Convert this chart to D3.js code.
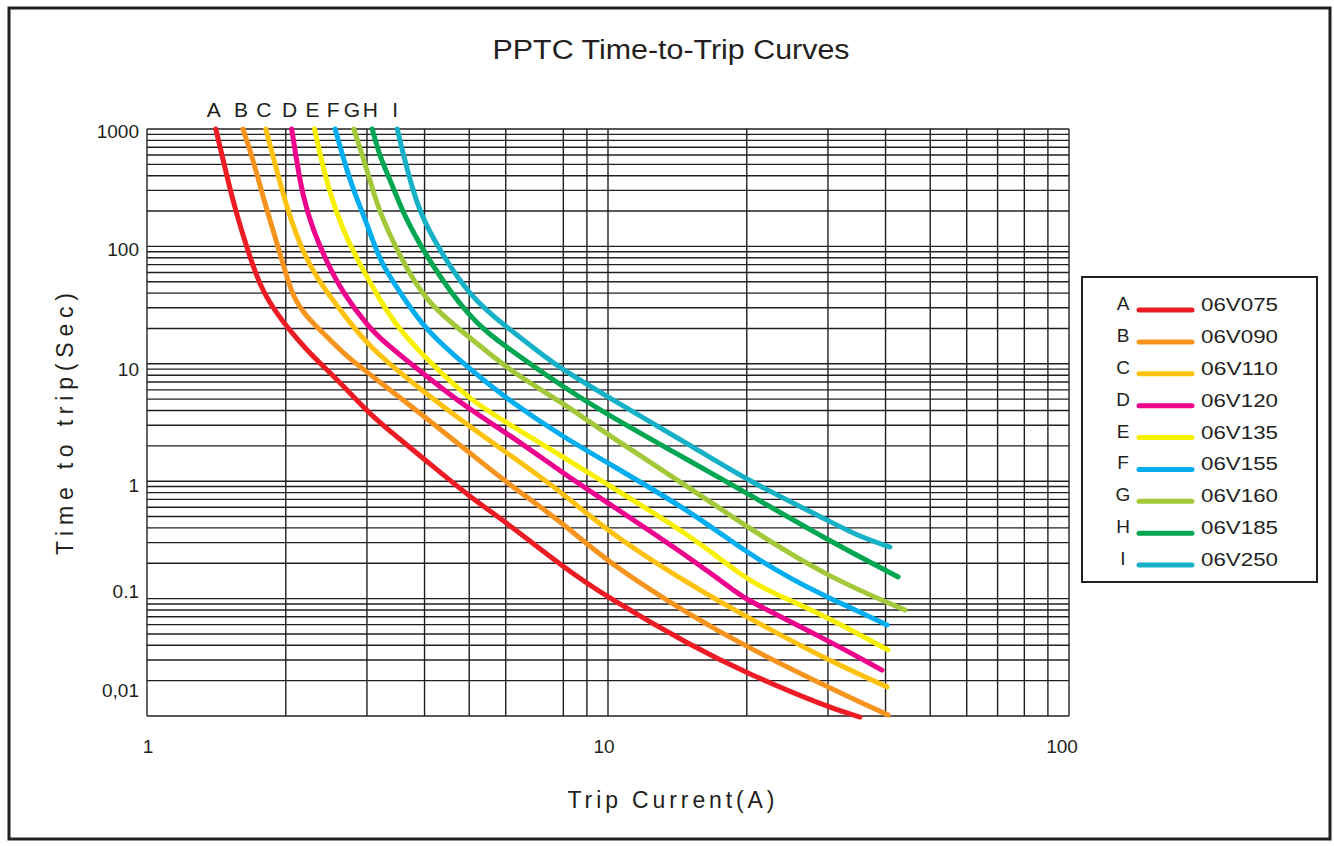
<!DOCTYPE html>
<html><head><meta charset="utf-8">
<script src="https://cdn.jsdelivr.net/npm/d3@7"></script>
<style>html,body{margin:0;padding:0;background:#fff;}svg{display:block;font-family:"Liberation Sans",Arial,sans-serif;}</style>
</head><body>
<script>
// ---- data ----
const seriesLetters = ["A","B","C","D","E","F","G","H","I"];
const seriesNames = ["06V075","06V090","06V110","06V120","06V135","06V155","06V160","06V185","06V250"];
const seriesColors = ["#ed1c24","#f7941d","#ffc20e","#ec008c","#f7f000","#00aeef","#a3c93a","#00a651","#17b1c7"];
// [current (A), time (s)]
const curveA = [[1.41,1000],[1.48,448],[1.54,234],[1.62,120],[1.70,66.8],[1.79,40.1],[1.91,27.1],[2.02,20.2],[2.22,13.1],[2.46,8.85],[2.72,5.98],[3.09,3.52],[3.49,2.38],[4.01,1.52],[5.02,0.733],[6.04,0.441],[7.99,0.186],[9.95,0.103],[15.3,0.0387],[20.0,0.0232],[29.9,0.0119],[35.2,0.0098]];
const curveB = [[1.615,1000],[1.70,544],[1.785,264],[1.876,138],[1.97,72.2],[2.07,37.1],[2.22,25.0],[2.46,16.9],[2.72,11.4],[3.02,8.35],[4.01,3.52],[5.02,1.74],[6.04,0.965],[7.99,0.441],[9.95,0.205],[15.3,0.0697],[20.0,0.0387],[29.9,0.0177],[40.5,0.0102]];
const curveC = [[1.81,1000],[1.91,448],[2.01,217],[2.115,120],[2.26,66.8],[2.46,40.1],[2.66,27.1],[3.02,13.9],[4.01,5.64],[5.02,2.90],[6.04,1.74],[7.99,0.793],[10.0,0.369],[15.3,0.126],[20.0,0.0697],[29.9,0.030],[40.3,0.0177]];
const curveD = [[2.06,1000],[2.115,513],[2.18,264],[2.29,138],[2.46,72.2],[2.66,40.1],[3.02,20.6],[3.32,14.5],[4.01,8.0],[5.02,4.04],[6.04,2.57],[7.99,1.17],[10.0,0.652],[15.3,0.213],[19.05,0.112],[20.0,0.097],[29.9,0.0444],[39.3,0.0246]];
const curveE = [[2.31,1000],[2.37,625],[2.49,285],[2.66,138],[2.86,76.6],[3.20,34.9],[3.49,20.6],[4.05,10.8],[5.02,4.92],[6.04,3.13],[7.99,1.61],[10.0,0.928],[15.3,0.335],[20.0,0.144],[22.8,0.112],[29.9,0.0697],[40.5,0.0365]];
const curveF = [[2.56,1000],[2.66,578],[2.80,302],[3.0,158],[3.20,73.6],[3.55,40],[4.01,19.4],[5.02,9.0],[6.04,5.0],[7.99,2.38],[10.0,1.43],[15.3,0.536],[20.0,0.245],[25.2,0.144],[29.9,0.103],[40.3,0.0596]];
const curveG = [[2.81,1000],[2.94,578],[3.09,302],[3.20,196],[3.45,100],[4.01,33],[5.02,16.9],[6.04,9.0],[7.99,4.64],[10.0,2.47],[15.3,0.841],[20.0,0.407],[29.9,0.153],[44.1,0.080]];
const curveH = [[3.08,1000],[3.20,578],[3.37,368],[3.59,193],[4.01,84.5],[5.02,23.6],[6.02,13.9],[7.99,6.34],[10.0,3.66],[15.3,1.43],[20.0,0.793],[29.9,0.316],[42.6,0.153]];
const curveI = [[3.49,1000],[3.59,625],[3.72,368],[3.91,193],[4.28,97],[5.02,37.1],[6.02,20.6],[7.12,12.4],[7.99,8.85],[10.0,5.21],[15.3,1.96],[20.0,1.02],[29.9,0.467],[35.2,0.335],[40.9,0.275]];
const curves = [curveA,curveB,curveC,curveD,curveE,curveF,curveG,curveH,curveI];

const xGridValues = [1,2,3,4,5,6,8,9,10,20,30,40,50,60,70,80,90,100];
const yGridValues = [];
[0.01,0.1,1,10,100].forEach(b => { for (let k=1;k<10;k++) yGridValues.push(+(b*k).toPrecision(3)); });
yGridValues.push(1000);
const xTickValues = [1,10,100];
const xTickLabels = ["1","10","100"];
const yTickValues = [1000,100,10,1,0.1,0.01];
const yTickLabels = ["1000","100","10","1","0.1","0,01"];

const titleText = "PPTC Time-to-Trip Curves";
const xTitle = "Trip Current(A)";
const yTitle = "Time to trip(Sec)";

// ---- drawing ----
const W = 1334, H = 846;
const svg = d3.select("body").append("svg").attr("width", W).attr("height", H);

svg.append("rect").attr("x",9).attr("y",8).attr("width",1321).attr("height",831)
  .attr("fill","none").attr("stroke","#231f20").attr("stroke-width",3);

const x = d3.scaleLog().domain([1,100]).range([147,1069]);
const y = d3.scaleLog().domain([0.01,1000]).range([716,129]);

const grid = svg.append("g").attr("stroke","#231f20").attr("stroke-width",1.4);
grid.selectAll("line.h").data(yGridValues).join("line").attr("class","h")
  .attr("x1",x(1)).attr("x2",x(100)).attr("y1",d=>y(d)).attr("y2",d=>y(d));
grid.selectAll("line.v").data(xGridValues).join("line").attr("class","v")
  .attr("x1",d=>x(d)).attr("x2",d=>x(d)).attr("y1",y(1000)).attr("y2",y(0.01));

// tick labels
const yOff = [2,3,6,4,-7,-26];
svg.append("g").selectAll("text").data(yTickValues).join("text")
  .attr("x",139).attr("y",(d,i)=>y(d)+yOff[i]).attr("dominant-baseline","central")
  .attr("text-anchor","end").attr("font-size",19).attr("fill","#231f20")
  .text((d,i)=>yTickLabels[i]);
const xOff = [1,-4,-7];
svg.append("g").selectAll("text").data(xTickValues).join("text")
  .attr("x",(d,i)=>x(d)+xOff[i]).attr("y",746).attr("dominant-baseline","central")
  .attr("text-anchor","middle").attr("font-size",19).attr("fill","#231f20")
  .text((d,i)=>xTickLabels[i]);

// curves
const line = d3.line().x(d=>x(d[0])).y(d=>y(d[1])).curve(d3.curveBasis);
svg.append("g").selectAll("path").data(curves).join("path")
  .attr("d", line).attr("fill","none").attr("stroke",(d,i)=>seriesColors[i])
  .attr("stroke-width",5).attr("stroke-linecap","round").attr("stroke-linejoin","round");

// top letters
svg.append("g").selectAll("text").data(curves).join("text")
  .attr("x",d=>x(d[0][0])-2).attr("y",117).attr("text-anchor","middle")
  .attr("font-size",21).attr("fill","#231f20").text((d,i)=>seriesLetters[i]);

// titles
svg.append("text").attr("x",671).attr("y",59).attr("text-anchor","middle")
  .attr("font-size",27).attr("fill","#231f20")
  .attr("textLength",357).attr("lengthAdjust","spacingAndGlyphs").text(titleText);
svg.append("text").attr("x",671).attr("y",808).attr("text-anchor","middle")
  .attr("font-size",23).attr("fill","#231f20")
  .attr("textLength",207).attr("lengthAdjust","spacing").text(xTitle);
svg.append("text").attr("transform","translate(73,424) rotate(-90)").attr("text-anchor","middle")
  .attr("font-size",23).attr("fill","#231f20")
  .attr("textLength",262).attr("lengthAdjust","spacing").text(yTitle);

// legend
const lg = svg.append("g");
lg.append("rect").attr("x",1082).attr("y",277).attr("width",235).attr("height",305)
  .attr("fill","#fff").attr("stroke","#231f20").attr("stroke-width",2);
const rowY = d3.scaleLinear().domain([0,8]).range([304,559]);
const rows = lg.selectAll("g").data(seriesNames).join("g")
  .attr("transform",(d,i)=>`translate(0,${rowY(i)})`);
rows.append("text").attr("x",1123).attr("y",6).attr("text-anchor","middle")
  .attr("font-size",19).attr("fill","#231f20").text((d,i)=>seriesLetters[i]);
rows.append("line").attr("x1",1139).attr("x2",1192).attr("y1",6).attr("y2",6)
  .attr("stroke",(d,i)=>seriesColors[i]).attr("stroke-width",5).attr("stroke-linecap","round");
rows.append("text").attr("x",1201).attr("y",7).attr("font-size",19).attr("fill","#231f20")
  .attr("textLength",77).attr("lengthAdjust","spacingAndGlyphs").text(d=>d);
</script>
</body></html>
